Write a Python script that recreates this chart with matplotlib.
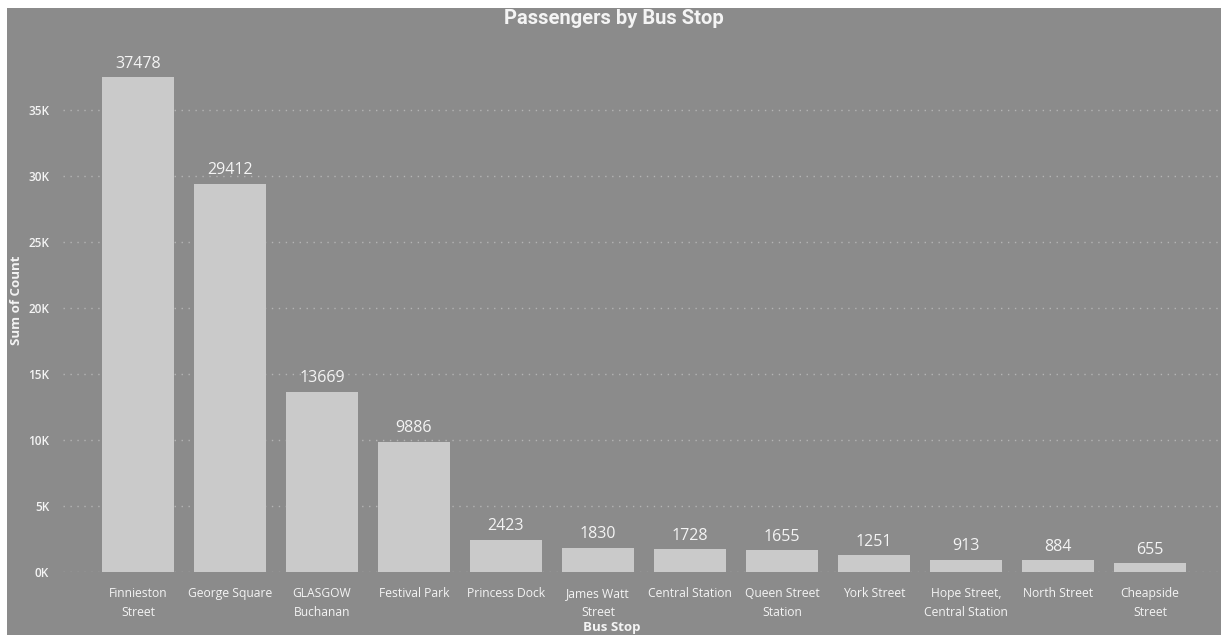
import matplotlib
matplotlib.use("Agg")
import matplotlib.pyplot as plt
from matplotlib.patches import Rectangle
from matplotlib.ticker import FuncFormatter, MultipleLocator

stops = ["Finnieston\nStreet", "George Square", "GLASGOW\nBuchanan", "Festival Park",
         "Princess Dock", "James Watt\nStreet", "Central Station", "Queen Street\nStation",
         "York Street", "Hope Street,\nCentral Station", "North Street", "Cheapside\nStreet"]
counts = [37478, 29412, 13669, 9886, 2423, 1830, 1728, 1655, 1251, 913, 884, 655]

BG = "#8b8b8b"
BAR = "#cacaca"
TXT = "#f4f4f4"

plt.rcParams["font.family"] = ["Open Sans", "DejaVu Sans"]

W, H = 1223, 635
fig = plt.figure(figsize=(W / 100, H / 100), dpi=100, facecolor="white")

# grey report panel, kept behind the axes
fig.patches.append(Rectangle((7 / W, 0), (1221 - 7) / W, (H - 8) / H,
                             transform=fig.transFigure, facecolor=BG,
                             edgecolor="none", zorder=-10))

ax_l, ax_r = 63, 1218
ax_top, ax_bot = 46, 572
ax = fig.add_axes([ax_l / W, 1 - ax_bot / H, (ax_r - ax_l) / W, (ax_bot - ax_top) / H])
ax.set_facecolor("none")
ax.set_zorder(1)

x = list(range(len(stops)))
ax.bar(x, counts, width=0.78, color=BAR, zorder=2)

for xi, v in zip(x, counts):
    ax.annotate(str(v), (xi, v), xytext=(0, 4), textcoords="offset points",
                ha="center", va="bottom", fontsize=11.5, color=TXT)

ax.set_xlim((ax_l - 138) / 92, (ax_r - 138) / 92)
ax.set_ylim(0, (ax_bot - ax_top) / 66 * 5000)
ax.yaxis.set_major_locator(MultipleLocator(5000))
ax.yaxis.set_major_formatter(FuncFormatter(lambda v, p: f"{int(v / 1000)}K"))
ax.grid(axis="y", linestyle=(0, (1, 4)), color="#b4b4b4", linewidth=1, zorder=1)
ax.set_axisbelow(True)

ax.set_xticks(x)
ax.set_xticklabels(stops, fontsize=8.7, color=TXT, linespacing=1.6)
ax.tick_params(axis="x", length=0, pad=11)
ax.tick_params(axis="y", length=0, pad=10, labelsize=8.5, labelcolor=TXT)
for lbl in ax.get_yticklabels():
    lbl.set_fontweight("semibold")
for s in ax.spines.values():
    s.set_visible(False)

fig.text(614 / W, 1 - 18 / H, "Passengers by Bus Stop", ha="center", va="center",
         fontsize=14.5, fontweight="bold", color=TXT, family=["Roboto", "DejaVu Sans"])
fig.text(612 / W, 1 - 627 / H, "Bus Stop", ha="center", va="center",
         fontsize=9.5, fontweight="bold", color=TXT)
fig.text(17 / W, 1 - 300 / H, "Sum of Count", ha="center", va="center",
         rotation=90, fontsize=9.5, fontweight="bold", color=TXT)

fig.savefig("out.png", dpi=100, facecolor="white")
